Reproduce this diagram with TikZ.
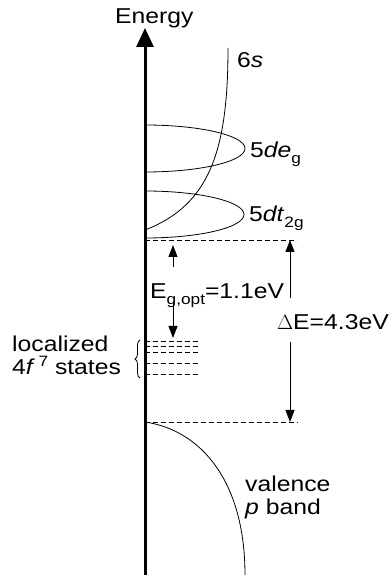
\documentclass[tikz,border=0pt]{standalone}
\usepackage{fontspec}
\setmainfont[FakeStretch=1.15]{Liberation Sans}
\usetikzlibrary{arrows.meta,decorations.pathreplacing}

\newcommand\lowidx[1]{\raisebox{-0.45ex}{\fontsize{15}{15}\selectfont #1}}
\newcommand\upidx[1]{\raisebox{0.75ex}{\fontsize{15}{15}\selectfont #1}}

\begin{document}
\begin{tikzpicture}[x=1pt, y=1pt, font=\fontsize{21.5}{23}\selectfont,
  band/.style={line width=0.8pt},
  edge/.style={line width=0.8pt, dash pattern=on 5pt off 3pt},
  gaparrow/.style={line width=0.9pt, -{Triangle[width=9pt,length=12pt]}},
  lbl/.style={anchor=base west, inner sep=0pt, align=left}]
\useasboundingbox (0,0) rectangle (391,579);
% ---------- energy axis ----------
\draw[line width=3pt, -{Triangle[width=17pt,length=19pt]}] (145,4) -- (145,551);
\node[lbl] (energy) at (115,555) {Energy};
% ---------- conduction band: 6s and 5d levels ----------
\draw[band] (145,349) .. controls (210,374) and (228,429) .. (228,531);
\node[lbl] (sixs) at (237,511) {6\textit{s}};
\draw[band] (145,454) arc[start angle=90, end angle=-90, x radius=100, y radius=23.5];
\node[lbl] (deg) at (250,421) {5\textit{de}\lowidx{g}};
\draw[band] (145,388) arc[start angle=90, end angle=-90, x radius=99, y radius=23.5];
\node[lbl] (dtg) at (249,357) {5\textit{dt}\lowidx{2g}};
% ---------- band edges ----------
\coordinate (cbm) at (145,339);
\coordinate (vbm) at (145,157);
\draw[edge] (cbm) -- ++(152,0) coordinate (cbr);
\draw[edge] (vbm) -- ++(153,0) coordinate (vbr);
% valence p band
\draw[band] (vbm) .. controls (200,149) and (245,99) .. (245,4);
\node[lbl] (val) at (245,64) {valence\\\textit{p} band};
% ---------- localized 4f states ----------
\foreach \y in {237.3,232.3,226.7,215.7,204.7}
  \draw[edge] (145,\y) -- (200,\y);
\draw[line width=0.8pt, decorate, decoration={brace, amplitude=5pt}] (140,201) -- (140,239);
\node[lbl] (loc) at (12,204) {localized\\4\textit{f}\,\upidx{7} states};
% ---------- gaps ----------
\coordinate (egtip) at (173,334);
\coordinate (egbot) at (173,241);
\node[lbl] (egap) at (150,280) {E\lowidx{g,opt}=1.1eV};
\draw[gaparrow] ([yshift=32pt]egap.base -| egtip) -- (egtip);
\draw[gaparrow] ([yshift=-3pt]egap.base -| egbot) -- (egbot);
\node[lbl] (dE) at (277,249) {$\Delta$E=4.3eV};
\draw[gaparrow] ([yshift=32pt]dE.base -| cbr) ++(-7,0) coordinate (dup) -- (dup |- cbr);
\draw[gaparrow] ([yshift=-12pt]dE.base -| vbr) ++(-8,0) coordinate (ddn) -- (ddn |- vbr);
\end{tikzpicture}
\end{document}
